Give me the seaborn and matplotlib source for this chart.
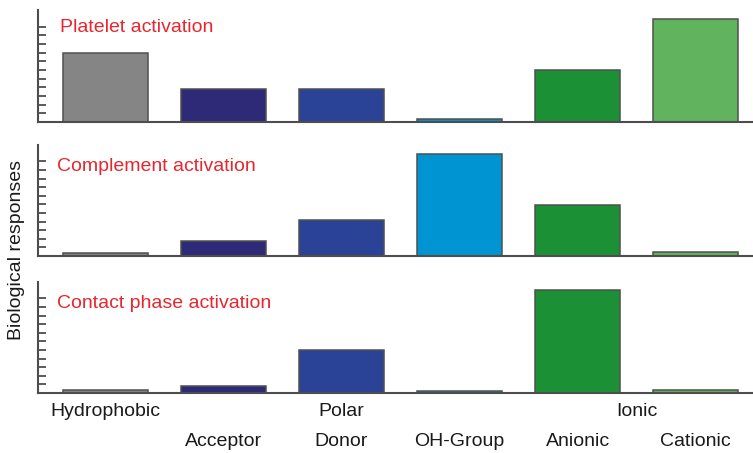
import matplotlib
matplotlib.use("Agg")
import matplotlib.pyplot as plt
import matplotlib.transforms as mtransforms
import seaborn as sns
import pandas as pd

# Surface chemistry categories and their grouping
categories = ["Hydrophobic", "Acceptor", "Donor", "OH-Group", "Anionic", "Cationic"]
groups = ["Hydrophobic", "Polar", "Polar", "Polar", "Ionic", "Ionic"]
sub_labels = ["", "Acceptor", "Donor", "OH-Group", "Anionic", "Cationic"]

# Relative biological responses per surface type
panel_titles = ["Platelet activation", "Complement activation", "Contact phase activation"]
platelet = [8.0, 3.8, 3.8, 0.3, 6.0, 11.9]
complement = [0.4, 1.8, 4.2, 11.8, 5.9, 0.5]
contact = [0.3, 0.8, 5.0, 0.2, 12.0, 0.4]
panel_values = [platelet, complement, contact]

colors = ["#858585", "#2f2a78", "#2a4396", "#0094d3", "#1b9035", "#61b35d"]
palette = dict(zip(categories, colors))

sns.set_style("white")
plt.rcParams["font.family"] = ["Liberation Sans", "DejaVu Sans"]

fig = plt.figure(figsize=(7.53, 4.53), dpi=100)

# axes rectangles [left, bottom, width, height] in figure fractions
rects = [
    [0.0505, 0.7307, 0.9495, 0.2472],
    [0.0505, 0.4349, 0.9495, 0.2450],
    [0.0505, 0.1325, 0.9495, 0.2450],
]
title_pos = [(0.031, 0.845), (0.027, 0.805), (0.027, 0.81)]

axes = []
for rect, vals, title, tpos in zip(rects, panel_values, panel_titles, title_pos):
    ax = fig.add_axes(rect)
    df = pd.DataFrame({"category": categories, "value": vals})
    sns.barplot(data=df, x="category", y="value", hue="category",
                palette=palette, order=categories, hue_order=categories,
                width=0.72, saturation=1, edgecolor="#505050", linewidth=1.1,
                legend=False, ax=ax)
    ax.set_xlim(-0.572, 5.487)
    ax.set_ylim(0, 12.9)
    ax.set_yticks(range(1, 12))
    ax.set_yticklabels([])
    ax.set_xticks([])
    ax.set_xlabel("")
    ax.set_ylabel("")
    ax.tick_params(axis="y", direction="in", length=6, width=1.3,
                   color="#4d4d4d", left=True)
    for side in ("top", "right"):
        ax.spines[side].set_visible(False)
    for side in ("left", "bottom"):
        ax.spines[side].set_color("#4d4d4d")
        ax.spines[side].set_linewidth(1.5)
    ax.text(tpos[0], tpos[1], title, transform=ax.transAxes,
            color="#e8262e", fontsize=14, va="center", ha="left")
    axes.append(ax)

# Category labels beneath the bottom panel: group names then subtypes
ax_bottom = axes[-1]
trans = mtransforms.blended_transform_factory(ax_bottom.transData, fig.transFigure)
group_names = list(dict.fromkeys(groups))
for g in group_names:
    idx = [i for i, gg in enumerate(groups) if gg == g]
    xc = sum(idx) / len(idx)
    ax_bottom.text(xc, 1 - 412 / 453, g, transform=trans, ha="center",
                   va="center", fontsize=14, color="#1a1a1a", clip_on=False)
for i, lab in enumerate(sub_labels):
    if lab:
        ax_bottom.text(i, 1 - 442 / 453, lab, transform=trans, ha="center",
                       va="center", fontsize=14, color="#1a1a1a", clip_on=False)

fig.text(0.022, 1 - 250 / 453, "Biological responses", rotation=90,
         ha="center", va="center", fontsize=14, color="#1a1a1a")

fig.savefig("out.png", dpi=100)
